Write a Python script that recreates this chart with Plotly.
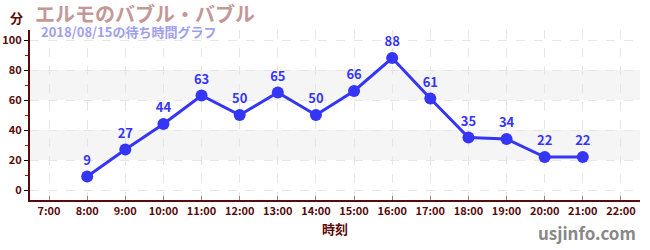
import plotly.graph_objects as go

hours = [8, 9, 10, 11, 12, 13, 14, 15, 16, 17, 18, 19, 20, 21]
waits = [9, 27, 44, 63, 50, 65, 50, 66, 88, 61, 35, 34, 22, 22]
tick_hours = list(range(7, 23))
tick_labels = [f"{h}:00" for h in tick_hours]
y_ticks = [0, 20, 40, 60, 80, 100]
bands = [(20, 40), (60, 80)]

title = "エルモのバブル・バブル"
subtitle = "2018/08/15の待ち時間グラフ"

FONT = "Noto Sans CJK JP"
AXC = "#5a0a0a"
LINE = "#3535f5"

W, H = 650, 250
L, R, T, B = 30, 10, 30, 50
PW, PH = W - L - R, H - T - B


def px(x):
    return (x - L) / PW


def py(y):
    return (H - B - y) / PH


fig = go.Figure()
fig.add_trace(go.Scatter(
    x=hours, y=waits, mode="lines+markers+text",
    text=[str(v) for v in waits], textposition="top center",
    textfont=dict(family=FONT, size=13, color=LINE, weight="bold"),
    line=dict(color=LINE, width=3),
    marker=dict(color=LINE, size=12),
    cliponaxis=False, hoverinfo="skip"))

shapes = []
for lo, hi in bands:
    shapes.append(dict(type="rect", xref="paper", yref="y", x0=0, x1=1, y0=lo, y1=hi,
                       fillcolor="#f5f5f5", line=dict(width=0), layer="below"))


def ann(text, x, y, size, color, xanchor="left"):
    return dict(text=text, x=px(x), y=py(y), xref="paper", yref="paper",
                xanchor=xanchor, yanchor="middle", showarrow=False, borderpad=0,
                font=dict(family=FONT, size=size, color=color, weight="bold"))


fig.update_layout(
    width=W, height=H,
    margin=dict(l=L, r=R, t=T, b=B),
    paper_bgcolor="white", plot_bgcolor="white",
    showlegend=False,
    shapes=shapes,
    font=dict(family=FONT, color=AXC),
    xaxis=dict(range=[6.5, 22.5], tickvals=tick_hours, ticktext=tick_labels,
               tickfont=dict(family=FONT, size=11, color=AXC, weight="bold"),
               ticks="inside", ticklen=4, tickcolor="#888", tickwidth=1,
               showline=True, linecolor="#5a0a0a", linewidth=2,
               showgrid=True, gridcolor="#e6e6e6", griddash="dash", gridwidth=1,
               zeroline=False, fixedrange=True, automargin=False,
               title=dict(text="時刻", font=dict(family=FONT, size=13, color=AXC, weight="bold"), standoff=8)),
    yaxis=dict(range=[-6.67, 106.67], tickvals=y_ticks,
               tickfont=dict(family=FONT, size=11, color=AXC, weight="bold"),
               ticks="outside", ticklen=4, tickcolor="#000", tickwidth=1,
               minor=dict(dtick=10, tick0=10, ticks="outside", ticklen=3, tickcolor="#e00000", showgrid=False),
               showline=True, linecolor="#5a0a0a", linewidth=2,
               showgrid=True, gridcolor="#e6e6e6", griddash="dash", gridwidth=1,
               zeroline=False, fixedrange=True, automargin=False),
    annotations=[
        ann("分", 9, 17, 13, AXC),
        ann(title, 34, 14, 20, "#c49898"),
        ann(subtitle, 40, 32, 13, "#9e9ef2"),
        ann("usjinfo.com", 637, 232, 17, "#888888", xanchor="right"),
    ],
)

fig.write_html("out.html", config={"displayModeBar": False})
